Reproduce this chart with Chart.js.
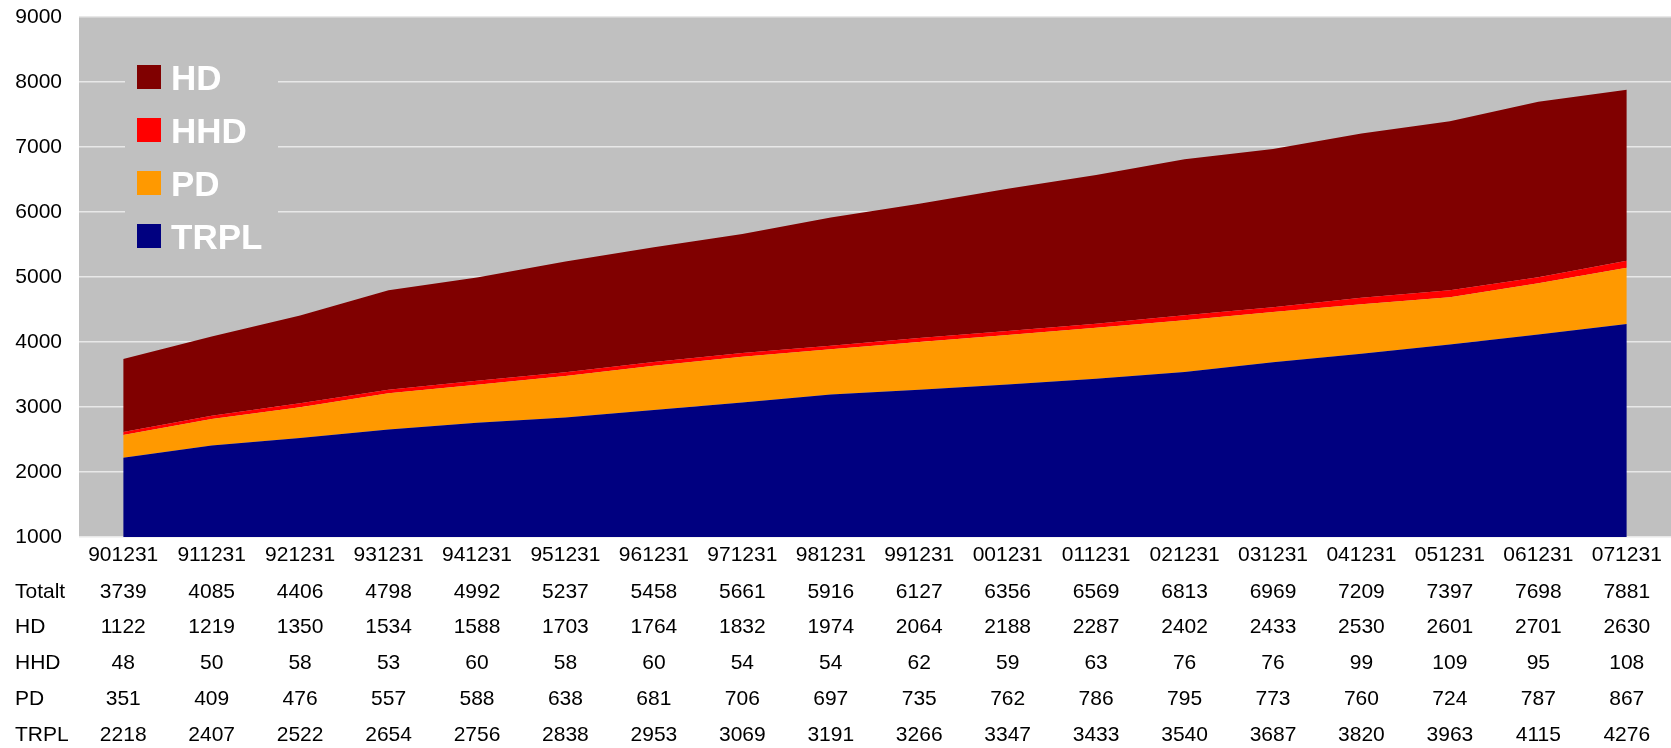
<!DOCTYPE html>
<html>
<head>
<meta charset="utf-8">
<script src="https://cdn.jsdelivr.net/npm/chart.js@4"></script>
<style>
  html, body { margin: 0; padding: 0; background: #fff; overflow: hidden; }
  #wrap { width: 1671px; height: 748px; }
</style>
</head>
<body>
<div id="wrap"><canvas id="myChart" width="1671" height="748"></canvas></div>
<script>
const labels = ['901231','911231','921231','931231','941231','951231','961231','971231','981231','991231',
                '001231','011231','021231','031231','041231','051231','061231','071231'];
const totalt = [3739,4085,4406,4798,4992,5237,5458,5661,5916,6127,6356,6569,6813,6969,7209,7397,7698,7881];
const hd     = [1122,1219,1350,1534,1588,1703,1764,1832,1974,2064,2188,2287,2402,2433,2530,2601,2701,2630];
const hhd    = [48,50,58,53,60,58,60,54,54,62,59,63,76,76,99,109,95,108];
const pd     = [351,409,476,557,588,638,681,706,697,735,762,786,795,773,760,724,787,867];
const trpl   = [2218,2407,2522,2654,2756,2838,2953,3069,3191,3266,3347,3433,3540,3687,3820,3963,4115,4276];
const yTicks = [1000,2000,3000,4000,5000,6000,7000,8000,9000];

const tableRows = [
  { name: 'Totalt', values: totalt },
  { name: 'HD', values: hd },
  { name: 'HHD', values: hhd },
  { name: 'PD', values: pd },
  { name: 'TRPL', values: trpl }
];

const FONT = '"Liberation Sans", Arial, sans-serif';

// grey plot background
const plotBg = {
  id: 'plotBg',
  beforeDraw(chart) {
    const { ctx, chartArea: a } = chart;
    ctx.save();
    ctx.fillStyle = '#c0c0c0';
    ctx.fillRect(a.left, a.top, a.right - a.left, a.bottom - a.top);
    ctx.restore();
  }
};

// legend box inside plot, on top of gridlines
const legendBox = {
  id: 'legendBox',
  beforeDatasetsDraw(chart) {
    const ctx = chart.ctx;
    ctx.save();
    ctx.fillStyle = '#c0c0c0';
    ctx.fillRect(125, 50, 153, 210);
    const items = chart.data.datasets.slice().reverse();
    ctx.font = 'bold 35px ' + FONT;
    ctx.textBaseline = 'alphabetic';
    ctx.textAlign = 'left';
    items.forEach((ds, i) => {
      const y = 65 + i * 53;
      ctx.fillStyle = ds.backgroundColor;
      ctx.fillRect(137, y, 24, 24);
      ctx.fillStyle = '#ffffff';
      ctx.fillText(ds.label, 171, y + 25);
    });
    ctx.restore();
  }
};

// data table under the x axis
const dataTable = {
  id: 'dataTable',
  afterDraw(chart) {
    const ctx = chart.ctx;
    const x = chart.scales.x;
    ctx.save();
    ctx.font = '21px ' + FONT;
    ctx.fillStyle = '#000';
    ctx.textBaseline = 'middle';
    tableRows.forEach((row, r) => {
      const y = 592 + r * 35.7;
      ctx.textAlign = 'left';
      ctx.fillText(row.name, 15, y);
      ctx.textAlign = 'center';
      row.values.forEach((v, i) => {
        ctx.fillText(String(v), x.getPixelForValue(i), y);
      });
    });
    ctx.restore();
  }
};

const config = {
  type: 'line',
  data: {
    labels: labels,
    datasets: [
      { label: 'TRPL', data: trpl, backgroundColor: '#000080', fill: 'origin' },
      { label: 'PD', data: pd, backgroundColor: '#ff9900', fill: '-1' },
      { label: 'HHD', data: hhd, backgroundColor: '#ff0000', fill: '-1' },
      { label: 'HD', data: hd, backgroundColor: '#800000', fill: '-1' }
    ].map(d => Object.assign(d, { borderWidth: 0, borderColor: d.backgroundColor, pointRadius: 0, tension: 0 }))
  },
  options: {
    responsive: false,
    animation: false,
    layout: { padding: { top: 17, right: 0, left: 0, bottom: 0 } },
    plugins: { legend: { display: false }, tooltip: { enabled: false } },
    scales: {
      x: {
        offset: true,
        grid: { display: false, drawTicks: false },
        border: { display: false },
        ticks: { font: { family: FONT, size: 21 }, color: '#000', padding: 6, maxRotation: 0, autoSkip: false },
        afterFit(s) { s.height = 211; }
      },
      y: {
        stacked: true,
        min: 1000,
        max: 9000,
        afterBuildTicks(s) { s.ticks = yTicks.map(v => ({ value: v })); },
        grid: { color: '#e8e8e8', lineWidth: 1.5, drawTicks: false },
        border: { display: false },
        ticks: { font: { family: FONT, size: 21 }, color: '#000', padding: 17, callback: v => String(v) },
        afterFit(s) { s.width = 79; s.paddingTop = 0; s.paddingBottom = 0; }
      }
    }
  },
  plugins: [plotBg, legendBox, dataTable]
};

let myChart = new Chart(document.getElementById('myChart'), config);
</script>
</body>
</html>
